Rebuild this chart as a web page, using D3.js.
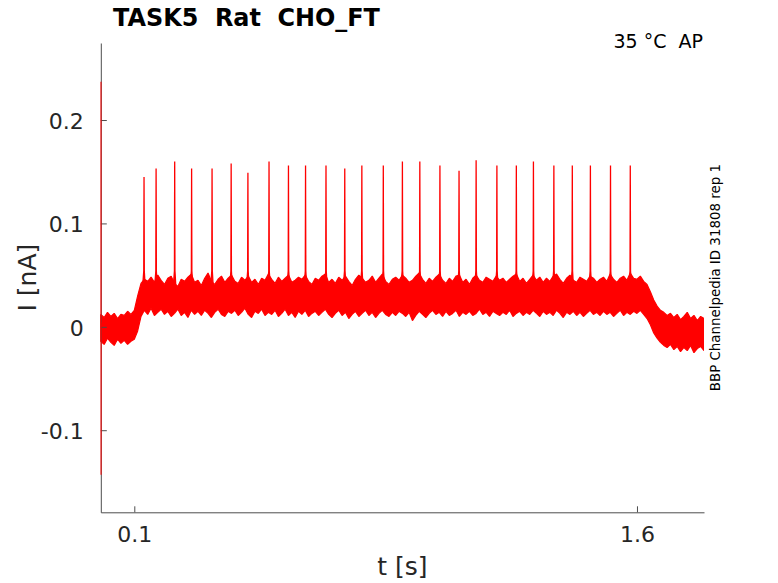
<!DOCTYPE html>
<html>
<head>
<meta charset="utf-8">
<script src="https://cdn.jsdelivr.net/npm/d3@7"></script>
<style>
  body { margin: 0; background: #fff; }
  svg { display: block; font-family: "DejaVu Sans", sans-serif; }
  text { white-space: pre; }
</style>
</head>
<body>
<svg id="chart"></svg>
<script>
// envelope of the noisy current trace, sampled every 10 ms (nA)
var envT = d3.range(0, 181).map(function (i) { return i / 100; });
var envHi = [
  0.012, 0.009, 0.014, 0.010, 0.013, 0.008, 0.012, 0.011, 0.015, 0.012,
  0.016, 0.030, 0.042, 0.046, 0.044, 0.048, 0.043, 0.050, 0.045, 0.041,
  0.047, 0.049, 0.042, 0.039, 0.046, 0.044, 0.048, 0.051, 0.043, 0.045,
  0.040, 0.047, 0.052, 0.044, 0.041, 0.046, 0.049, 0.043, 0.047, 0.050,
  0.044, 0.042, 0.048, 0.045, 0.049, 0.043, 0.046, 0.041, 0.047, 0.045,
  0.051, 0.046, 0.042, 0.048, 0.044, 0.047, 0.050, 0.043, 0.045, 0.048,
  0.046, 0.050, 0.044, 0.041, 0.047, 0.045, 0.049, 0.051, 0.043, 0.046,
  0.042, 0.048, 0.045, 0.049, 0.044, 0.040, 0.046, 0.050, 0.047, 0.043,
  0.045, 0.049, 0.043, 0.047, 0.051, 0.044, 0.041, 0.046, 0.048, 0.045,
  0.050, 0.047, 0.043, 0.045, 0.049, 0.052, 0.046, 0.042, 0.047, 0.044,
  0.048, 0.051, 0.045, 0.042, 0.047, 0.044, 0.049, 0.050, 0.043, 0.046,
  0.041, 0.047, 0.050, 0.045, 0.043, 0.048, 0.046, 0.044, 0.049, 0.045,
  0.047, 0.043, 0.046, 0.049, 0.051, 0.044, 0.047, 0.042, 0.046, 0.050,
  0.045, 0.048, 0.043, 0.047, 0.044, 0.049, 0.051, 0.046, 0.042, 0.047,
  0.050, 0.045, 0.043, 0.048, 0.046, 0.044, 0.049, 0.047, 0.043, 0.046,
  0.048, 0.044, 0.051, 0.046, 0.043, 0.047, 0.049, 0.045, 0.052, 0.047,
  0.046, 0.049, 0.044, 0.041, 0.034, 0.026, 0.020, 0.016, 0.014, 0.011,
  0.013, 0.009, 0.012, 0.007, 0.010, 0.014, 0.008, 0.011, 0.006, 0.010,
  0.008
];
var envLo = [
  -0.014, -0.017, -0.011, -0.015, -0.018, -0.012, -0.016, -0.013, -0.017, -0.014,
  -0.012, -0.004, 0.010, 0.016, 0.012, 0.018, 0.011, 0.014, 0.017, 0.012,
  0.015, 0.010, 0.013, 0.017, 0.011, 0.014, 0.009, 0.016, 0.012, 0.015,
  0.011, 0.016, 0.013, 0.009, 0.014, 0.017, 0.012, 0.010, 0.015, 0.013,
  0.016, 0.011, 0.014, 0.018, 0.012, 0.009, 0.015, 0.013, 0.017, 0.011,
  0.014, 0.012, 0.016, 0.010, 0.013, 0.017, 0.011, 0.014, 0.009, 0.015,
  0.012, 0.016, 0.010, 0.013, 0.015, 0.011, 0.014, 0.017, 0.012, 0.009,
  0.013, 0.016, 0.011, 0.014, 0.008, 0.012, 0.015, 0.010, 0.013, 0.016,
  0.011, 0.014, 0.009, 0.013, 0.016, 0.012, 0.010, 0.014, 0.011, 0.015,
  0.013, 0.010, 0.014, 0.006, 0.011, 0.015, 0.012, 0.009, 0.013, 0.016,
  0.012, 0.014, 0.010, 0.015, 0.011, 0.013, 0.016, 0.010, 0.014, 0.012,
  0.015, 0.011, 0.013, 0.017, 0.012, 0.014, 0.010, 0.015, 0.013, 0.011,
  0.014, 0.012, 0.016, 0.010, 0.013, 0.015, 0.011, 0.014, 0.012, 0.016,
  0.013, 0.010, 0.015, 0.012, 0.014, 0.011, 0.016, 0.013, 0.009, 0.014,
  0.012, 0.015, 0.011, 0.014, 0.010, 0.013, 0.016, 0.012, 0.014, 0.011,
  0.015, 0.012, 0.014, 0.010, 0.013, 0.016, 0.011, 0.014, 0.012, 0.015,
  0.013, 0.016, 0.012, 0.008, 0.002, -0.006, -0.011, -0.015, -0.018, -0.020,
  -0.017, -0.022, -0.019, -0.024, -0.020, -0.023, -0.018, -0.025, -0.021, -0.019,
  -0.023
];

// action potential times (s) and peak currents (nA)
var spikeT = [0.129, 0.165, 0.2205, 0.271, 0.332, 0.389, 0.439, 0.502, 0.560,
  0.611, 0.672, 0.728, 0.779, 0.843, 0.900, 0.952, 1.012, 1.069, 1.120,
  1.182, 1.240, 1.291, 1.352, 1.407, 1.461, 1.521, 1.580];
var spikePeak = [0.145, 0.153, 0.160, 0.153, 0.153, 0.158, 0.149, 0.160, 0.156,
  0.156, 0.156, 0.153, 0.156, 0.156, 0.160, 0.160, 0.156, 0.151, 0.161,
  0.156, 0.156, 0.160, 0.156, 0.156, 0.156, 0.156, 0.156];

// capacitive transient at the start of the sweep
var transT = [0.0004, 0.0006, 0.0008, 0.0010, 0.0030];
var transI = [0, 0.237, -0.143, 0.004, 0.0];

var xTicks = [0.1, 1.6];
var yTicks = [-0.1, 0, 0.1, 0.2];

var svgWidth = 778, svgHeight = 583;
var plotLeft = 100.8, plotRight = 704, plotTop = 43, plotBottom = 512.3;
var red = "#ff0000";

var svg = d3.select("#chart").attr("width", svgWidth).attr("height", svgHeight);

var x = d3.scaleLinear().domain([0, 1.8]).range([plotLeft, plotRight]);
var y = d3.scaleLinear().domain([-0.1794, 0.2745]).range([plotBottom, plotTop]);

svg.append("defs").append("clipPath").attr("id", "plot")
  .append("rect").attr("x", plotLeft - 1).attr("y", plotTop)
  .attr("width", plotRight - plotLeft + 1).attr("height", plotBottom - plotTop);

var trace = svg.append("g").attr("clip-path", "url(#plot)");

var band = d3.area()
  .x(function (d, i) { return x(envT[i]); })
  .y0(function (d, i) { return y(envLo[i]); })
  .y1(function (d, i) { return y(envHi[i]); });

trace.append("path")
  .datum(envT)
  .attr("d", band)
  .attr("fill", red)
  .attr("stroke", red)
  .attr("stroke-width", 1.2)
  .attr("stroke-linejoin", "bevel");

// spikes: narrow peaks rising out of the band
var spikeLine = d3.line()
  .x(function (d) { return x(d[0]); })
  .y(function (d) { return y(d[1]); });

trace.selectAll(".spike")
  .data(spikeT)
  .enter()
  .append("path")
  .attr("class", "spike")
  .attr("d", function (t, i) {
    return spikeLine([[t - 0.004, 0.040], [t - 0.0008, 0.054], [t, spikePeak[i]],
      [t + 0.0008, 0.054], [t + 0.004, 0.036]]);
  })
  .attr("fill", red)
  .attr("stroke", red)
  .attr("stroke-width", 1.3);

// axes (MATLAB style: ticks inside, box off)
var axisColor = "#4d4d4d";
var labelColor = "#262626";
var plain = function (d) { return String(d); };

var xAxis = svg.append("g")
  .attr("transform", "translate(0," + plotBottom + ")")
  .call(d3.axisBottom(x).tickValues(xTicks).tickSize(-6).tickSizeOuter(0)
    .tickPadding(14).tickFormat(plain));
var yAxis = svg.append("g")
  .attr("transform", "translate(" + plotLeft + ",0)")
  .call(d3.axisLeft(y).tickValues(yTicks).tickSize(-6).tickSizeOuter(0)
    .tickPadding(17).tickFormat(plain));

[xAxis, yAxis].forEach(function (g) {
  g.select(".domain").attr("stroke", axisColor);
  g.selectAll(".tick line").attr("stroke", axisColor);
  g.selectAll(".tick text")
    .attr("fill", labelColor)
    .style("font-family", "DejaVu Sans")
    .style("font-size", "22px");
});
yAxis.selectAll(".tick text").attr("dy", "0.38em");

// the start transient sits on top of the y axis line
svg.append("path")
  .datum(transT)
  .attr("d", d3.line()
    .x(function (d) { return x(d); })
    .y(function (d, i) { return y(transI[i]); }))
  .attr("fill", "none")
  .attr("stroke", red)
  .attr("stroke-opacity", 0.85)
  .attr("stroke-width", 1.2);

svg.append("text")
  .attr("x", (plotLeft + plotRight) / 2)
  .attr("y", 575)
  .attr("text-anchor", "middle")
  .attr("fill", labelColor)
  .style("font-size", "25px")
  .text("t [s]");

svg.append("text")
  .attr("transform", "translate(36," + ((plotTop + plotBottom) / 2) + ") rotate(-90)")
  .attr("text-anchor", "middle")
  .attr("fill", labelColor)
  .style("font-size", "25px")
  .text("I [nA]");

svg.append("text")
  .attr("x", 113)
  .attr("y", 26)
  .attr("fill", "#000")
  .style("font-size", "23.9px")
  .style("font-weight", "bold")
  .text("TASK5  Rat  CHO_FT");

svg.append("text")
  .attr("x", 703)
  .attr("y", 48)
  .attr("text-anchor", "end")
  .attr("fill", "#000")
  .style("font-size", "19px")
  .text("35 °C  AP");

svg.append("text")
  .attr("transform", "translate(720," + ((plotTop + plotBottom) / 2) + ") rotate(-90)")
  .attr("text-anchor", "middle")
  .attr("fill", "#000")
  .style("font-size", "13.4px")
  .text("BBP Channelpedia ID 31808 rep 1");
</script>
</body>
</html>
